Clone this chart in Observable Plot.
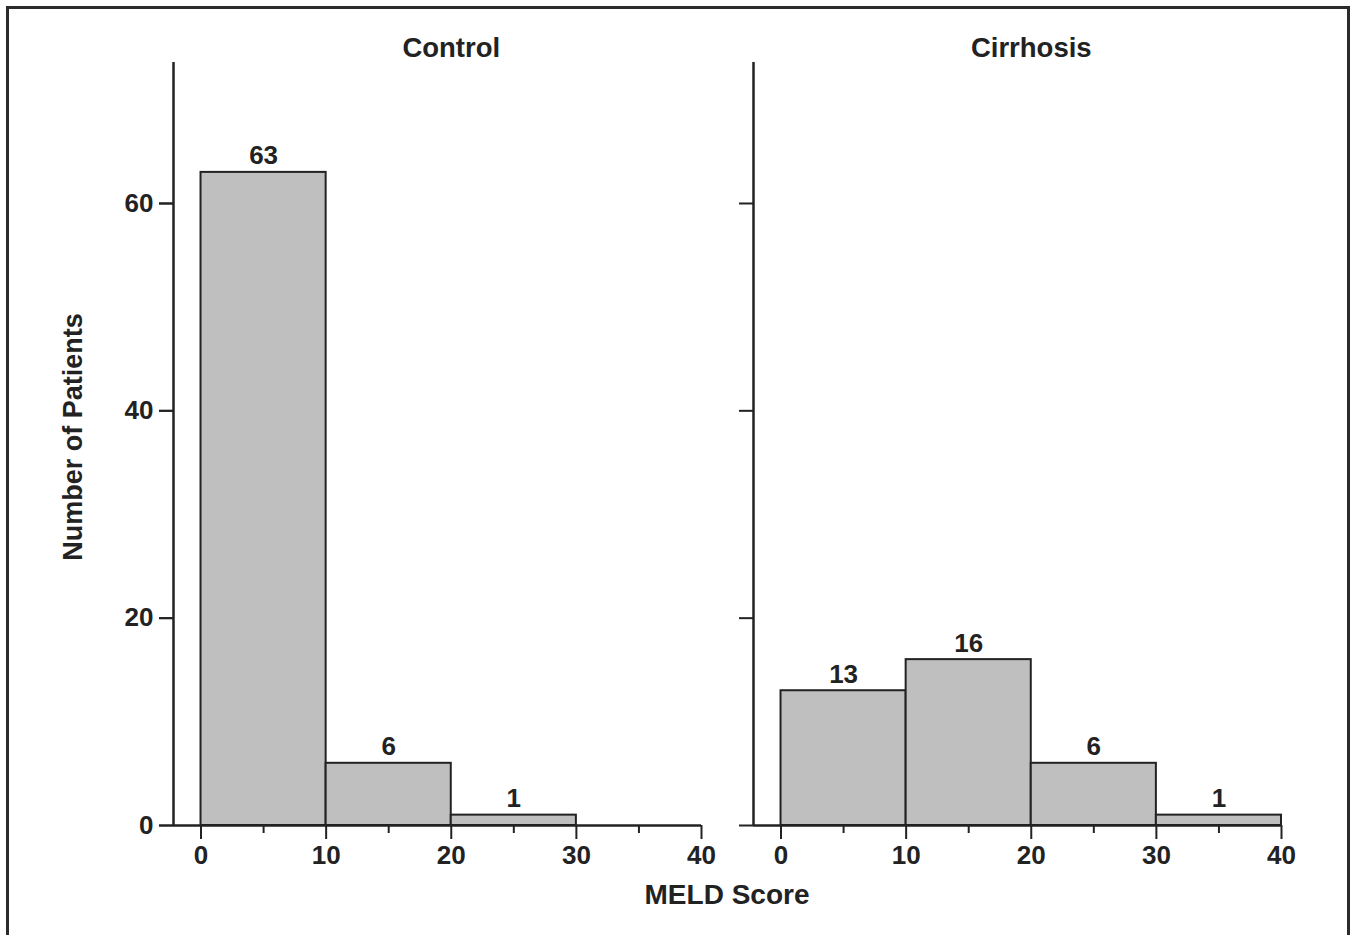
<!DOCTYPE html>
<html>
<head>
<meta charset="utf-8">
<script src="https://cdn.jsdelivr.net/npm/d3@7"></script>
<script src="https://cdn.jsdelivr.net/npm/@observablehq/plot@0.6"></script>
<style>
  html, body { margin: 0; padding: 0; background: #fff; }
  #wrap { position: relative; width: 1355px; height: 935px; overflow: hidden;
          font-family: "Liberation Sans", Arial, Helvetica, sans-serif; font-weight: bold; color: #222; }
  #border { position: absolute; left: 6px; top: 6px; width: 1344px; height: 960px;
            border: 3px solid #2b2b2b; box-sizing: border-box; }
  #chart { position: absolute; left: 0; top: 0; }
  #ylabel { position: absolute; left: -127px; top: 424px; width: 400px; height: 26px; line-height: 26px;
            text-align: center; font-size: 27px; transform: rotate(-90deg); transform-origin: 200px 13px; white-space: nowrap; }
  #xlabel { position: absolute; left: 527px; top: 882px; width: 400px; line-height: 26px;
            text-align: center; font-size: 28px; white-space: nowrap; }
</style>
</head>
<body>
<div id="wrap">
  <div id="border"></div>
  <div id="chart"></div>
  <div id="ylabel">Number of Patients</div>
  <div id="xlabel">MELD Score</div>
</div>
<script>
// ---- data ----
const groups = ["Control", "Cirrhosis"];
const binStart = [0, 10, 20, 30];
const binEnd = [10, 20, 30, 40];
const controlCounts = [63, 6, 1, 0];
const cirrhosisCounts = [13, 16, 6, 1];
const xMajorTicks = [0, 10, 20, 30, 40];
const xMinorTicks = [5, 15, 25, 35];
const yTicks = [0, 20, 40, 60];

const countsByGroup = { Control: controlCounts, Cirrhosis: cirrhosisCounts };
const rows = [];
for (const g of groups) {
  countsByGroup[g].forEach((c, i) => {
    if (c > 0) rows.push({ group: g, x1: binStart[i], x2: binEnd[i], count: c });
  });
}
const xMin = -2.2;
const xMax = binEnd[binEnd.length - 1];
const titleX = (binStart[0] + xMax) / 2;
const ink = "#222";

const chart = Plot.plot({
  width: 1355,
  height: 935,
  marginLeft: 173,
  marginRight: 74,
  marginTop: 62,
  marginBottom: 110,
  style: { fontFamily: "'Liberation Sans', Arial, Helvetica, sans-serif", fontSize: "26px", fontWeight: "bold", color: ink, background: "transparent" },
  fx: { domain: groups, paddingInner: 0.09, paddingOuter: 0, axis: null, label: null },
  x: { domain: [xMin, xMax], label: null },
  y: { domain: [0, 73.6], label: null },
  marks: [
    Plot.rectY(rows, { fx: "group", x1: "x1", x2: "x2", y: "count", fill: "#bfbfbf", stroke: ink, strokeWidth: 2 }),
    Plot.text(rows, { fx: "group", x: d => (d.x1 + d.x2) / 2, y: "count", text: d => String(d.count),
                      lineAnchor: "bottom", dy: -8, fontSize: 26, fontWeight: "bold", fill: ink }),
    Plot.ruleY([0], { stroke: ink, strokeWidth: 2.5 }),
    Plot.ruleX([xMin], { stroke: ink, strokeWidth: 2.5 }),
    Plot.axisX({ ticks: xMajorTicks, tickSize: 14, tickPadding: 6, label: null, stroke: ink, strokeWidth: 2, fill: ink }),
    Plot.axisX({ ticks: xMinorTicks, tickSize: 8, tickFormat: () => "", label: null, stroke: ink, strokeWidth: 2 }),
    Plot.axisY({ ticks: yTicks, tickSize: 14, tickFormat: () => "", label: null, facetAnchor: null, stroke: ink, strokeWidth: 2 }),
    Plot.axisY({ ticks: yTicks, tickSize: 14, tickPadding: 6, label: null, stroke: ink, strokeWidth: 2, fill: ink }),
    Plot.text(groups, { fx: d => d, x: () => titleX, text: d => d, frameAnchor: "top", lineAnchor: "middle", dy: -14,
                        fontSize: 27.5, fontWeight: "bold", fill: ink })
  ]
});
document.getElementById("chart").appendChild(chart);
</script>
</body>
</html>
